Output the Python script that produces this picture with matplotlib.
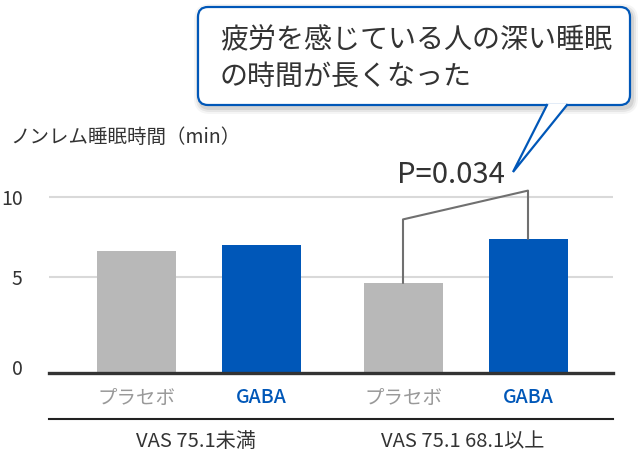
import numpy as np
import matplotlib
matplotlib.use('Agg')
from matplotlib import pyplot as plt
from matplotlib.patches import FancyBboxPatch, Polygon
from matplotlib.transforms import ScaledTranslation

plt.rcParams['font.family'] = ['Noto Sans CJK JP', 'DejaVu Sans']

# data
bar_labels = ['プラセボ', 'GABA', 'プラセボ', 'GABA']
bar_values = [6.6, 7.0, 4.7, 7.4]
bar_pos = [0, 1, 2.136, 3.136]
group_labels = ['VAS 75.1未満', 'VAS 75.1 68.1以上']
bracket_y = [8.6, 10.4]
p_text = 'P=0.034'
callout_lines = ['疲労を感じている人の深い睡眠', 'の時間が長くなった']
ylabel = 'ノンレム睡眠時間（min）'

gray = '#b8b8b8'
blue = '#0057b8'
dark = '#333333'
colors = [gray, blue, gray, blue]
label_colors = ['#999999', blue, '#999999', blue]
label_weights = ['normal', 'medium', 'normal', 'medium']

# the axis in the original is not linear: 0-5 is taller than 5-10
seg_v = [0, 5, 10, 20]
seg_px = [0, 96, 176, 336]
fwd = lambda v: np.interp(v, seg_v, seg_px)
inv = lambda p: np.interp(p, seg_px, seg_v)

W, H = 642, 454
fig = plt.figure(figsize=(W / 100, H / 100), dpi=100)
ax = fig.add_axes([49 / W, (H - 373) / H, (613 - 49) / W, 240 / H])
ax.set_yscale('function', functions=(fwd, inv))
ax.set_ylim(0, 14)
ax.set_xlim(-0.696, 3.816)

for y in [5, 10]:
    ax.axhline(y, color='#d9d9d9', lw=1.5, zorder=0)

ax.bar(bar_pos, bar_values, width=0.632, color=colors, zorder=2)

for s in ['top', 'right', 'left']:
    ax.spines[s].set_visible(False)
ax.spines['bottom'].set_color(dark)
ax.spines['bottom'].set_linewidth(2.4)
ax.spines['bottom'].set_zorder(3)

ax.set_yticks([0, 5, 10])
ax.set_yticklabels(['0', '5', '10'], fontsize=14, color=dark)
ax.tick_params(axis='y', length=0, pad=19)
lab0 = ax.get_yticklabels()[0]
lab0.set_transform(lab0.get_transform() + ScaledTranslation(0, 6 / 100, fig.dpi_scale_trans))

ax.set_xticks(bar_pos)
ax.set_xticklabels(bar_labels, fontsize=14)
ax.tick_params(axis='x', length=0, pad=11)
for t, c, w in zip(ax.get_xticklabels(), label_colors, label_weights):
    t.set_color(c)
    t.set_fontweight(w)

# line under the bar labels and group labels
ax.plot([0, 1], [-0.192, -0.192], transform=ax.transAxes, color='#222222', lw=1.5, clip_on=False)
for i, g in enumerate(group_labels):
    xc = (bar_pos[2 * i] + bar_pos[2 * i + 1]) / 2
    ax.text(xc - 0.02, -0.286, g, transform=ax.get_xaxis_transform(), ha='center', va='center',
            fontsize=14.5, color=dark)

# significance bracket
ax.plot([bar_pos[2], bar_pos[2], bar_pos[3], bar_pos[3]],
        [bar_values[2], bracket_y[0], bracket_y[1], bar_values[3]],
        color='#707070', lw=1.5, clip_on=False, zorder=3)

fig.text(10 / W, 1 - 137 / H, ylabel, fontsize=14, color=dark, va='center', ha='left')
fig.text(451 / W, 1 - 175 / H, p_text, fontsize=21, color=dark, va='center', ha='center')

# callout bubble in pixel coordinates
ov = fig.add_axes([0, 0, 1, 1], zorder=5)
ov.set_xlim(0, W)
ov.set_ylim(H, 0)
ov.axis('off')
ov.patch.set_alpha(0)

for k, a in zip([6, 4, 2], [0.04, 0.06, 0.08]):
    ov.add_patch(FancyBboxPatch((198 - k + 2, 7 - k + 3), 432 + 2 * k, 98 + 2 * k,
                                boxstyle='round,pad=0,rounding_size=%d' % (10 + k),
                                fc='black', ec='none', alpha=a))
ov.add_patch(FancyBboxPatch((198, 7), 432, 98, boxstyle='round,pad=0,rounding_size=10',
                            fc='white', ec=blue, lw=1.6))
ov.add_patch(Polygon([(547, 104), (513, 172), (567, 104)], closed=False,
                     fc='white', ec='none'))
ov.plot([547, 513, 567], [105, 172, 105], color=blue, lw=1.6, solid_joinstyle='miter')
ov.text(220, 40, callout_lines[0], fontsize=20.2, color=dark, va='center', ha='left')
ov.text(220, 78, callout_lines[1], fontsize=20.2, color=dark, va='center', ha='left')

fig.savefig('out.png', dpi=100)
